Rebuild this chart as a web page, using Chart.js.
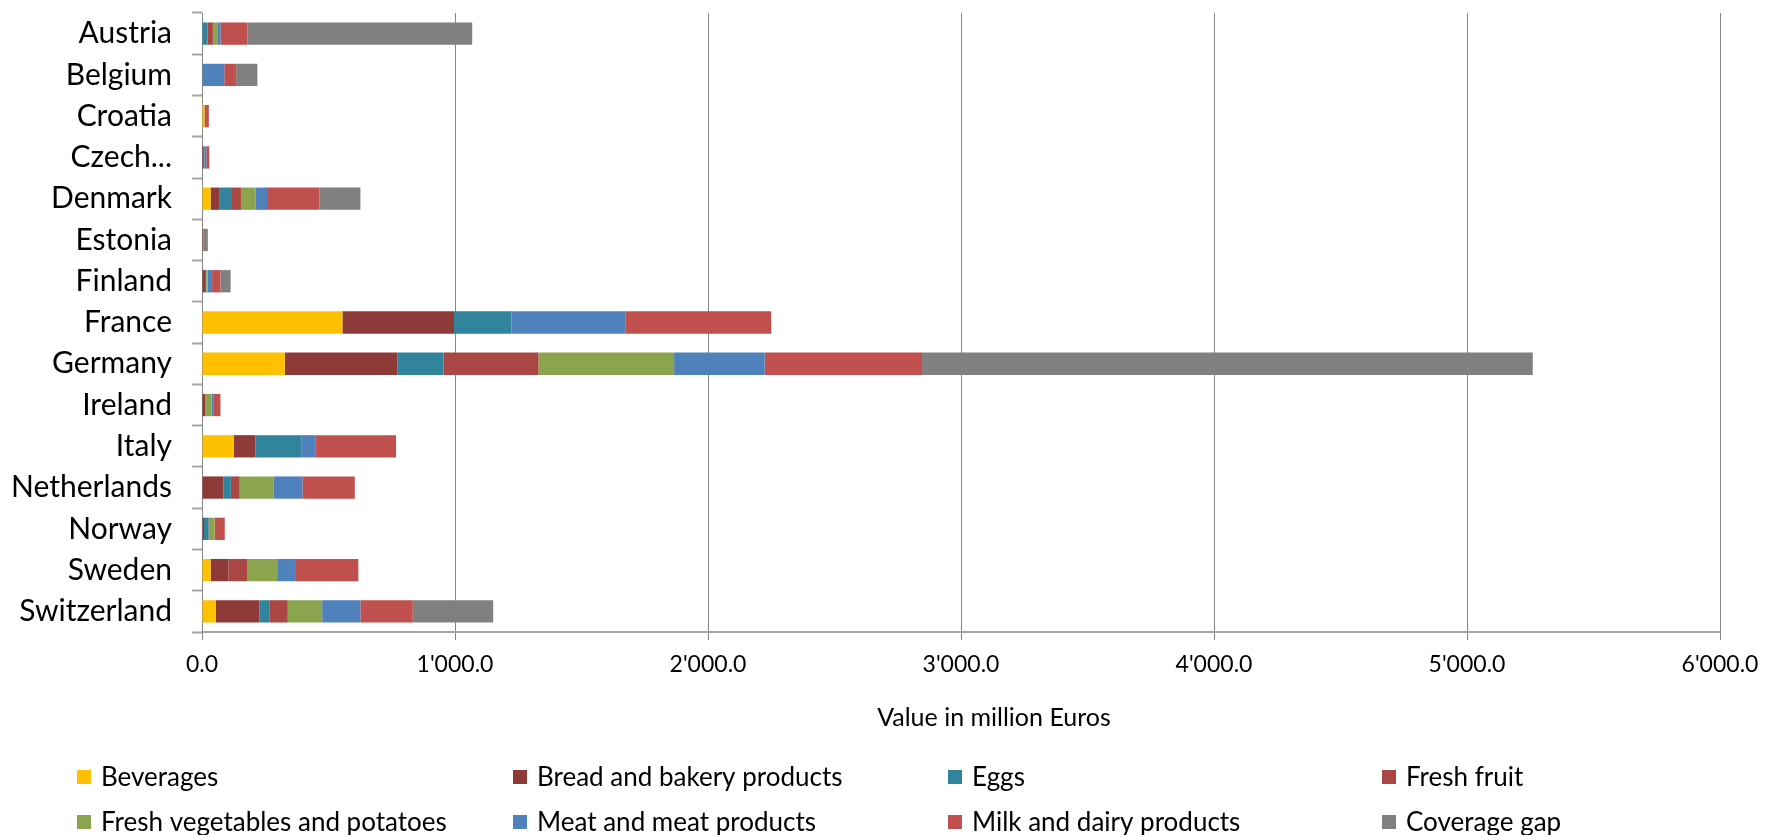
<!DOCTYPE html>
<html>
<head>
<meta charset="utf-8">
<script src="https://cdn.jsdelivr.net/npm/chart.js@4.4.1/dist/chart.umd.min.js"></script>
<style>
  html, body { margin: 0; padding: 0; background: #fff; }
  #wrap { width: 1769px; height: 835px; }
</style>
</head>
<body>
<div id="wrap"><canvas id="chart" width="1769" height="835"></canvas></div>
<script>
// カテゴリ（国）
const countries = ["Austria", "Belgium", "Croatia", "Czech...", "Denmark", "Estonia", "Finland",
    "France", "Germany", "Ireland", "Italy", "Netherlands", "Norway", "Sweden", "Switzerland"];

// 各系列の値（million Euros）
const beverages   = [0, 0, 10, 0, 34, 0, 0, 555, 327, 0, 125, 0, 0, 34, 54];
const bread       = [0, 0, 5, 4, 36, 0, 12, 441, 445, 12, 86, 85, 8, 71, 173];
const eggs        = [22, 0, 0, 5, 45, 0, 5, 227, 183, 0, 181, 29, 18, 0, 41];
const freshFruit  = [21, 0, 0, 0, 39, 5, 0, 0, 375, 0, 0, 35, 4, 75, 71];
const freshVeg    = [20, 0, 0, 0, 57, 0, 5, 0, 536, 26, 0, 133, 20, 117, 136];
const meat        = [10, 88, 0, 8, 46, 0, 18, 450, 358, 6, 58, 115, 0, 71, 151];
const milk        = [107, 47, 12, 12, 207, 0, 33, 577, 622, 29, 317, 207, 40, 250, 207];
const coverageGap = [888, 84, 0, 0, 162, 18, 40, 0, 2414, 0, 0, 0, 0, 0, 318];

const seriesNames = ["Beverages", "Bread and bakery products", "Eggs", "Fresh fruit",
    "Fresh vegetables and potatoes", "Meat and meat products", "Milk and dairy products", "Coverage gap"];
const seriesValues = [beverages, bread, eggs, freshFruit, freshVeg, meat, milk, coverageGap];
const seriesColors = ["#FFC000", "#8E3A38", "#31849B", "#AA4643", "#8BA54E", "#4F81BD", "#C0504D", "#808080"];

// x軸の目盛りとタイトル
const xTicks = [0, 1000, 2000, 3000, 4000, 5000, 6000];
const xTitle = "Value in million Euros";

const FONT = "Lato, 'Liberation Sans', Arial, sans-serif";

/**
 * 1000 -> "1'000.0"
 */
function formatTick(v) {
    const whole = Math.round(v);
    const s = String(whole).replace(/\B(?=(\d{3})+(?!\d))/g, "'");
    return s + ".0";
}

// x軸タイトルと凡例（4列グリッド、Excel 風）を描画
const gridLegend = {
    id: "gridLegend",
    afterDraw(chart) {
        const ctx = chart.ctx;
        const cols = [77, 513, 948, 1382];
        const rows = [777, 822];
        ctx.save();
        ctx.textBaseline = "middle";

        // 軸タイトル（Excel ではプロット中央より少し右）
        ctx.font = "25px " + FONT;
        ctx.textAlign = "center";
        ctx.fillStyle = "#000";
        ctx.fillText(xTitle, 994, 718);

        ctx.font = "26px " + FONT;
        ctx.textAlign = "left";
        chart.data.datasets.forEach((ds, i) => {
            const x = cols[i % 4];
            const y = rows[Math.floor(i / 4)];
            ctx.fillStyle = ds.backgroundColor;
            ctx.fillRect(x, y - 7, 14, 14);
            ctx.fillStyle = "#000";
            ctx.fillText(ds.label, x + 24, y + 1);
        });
        ctx.restore();
    }
};

const datasets = seriesNames.map((name, i) => ({
    label: name,
    data: seriesValues[i],
    backgroundColor: seriesColors[i],
    borderWidth: 0,
    barPercentage: 1,
    categoryPercentage: 0.54,
}));

const ctx = document.getElementById("chart").getContext("2d");
new Chart(ctx, {
    type: "bar",
    data: { labels: countries, datasets: datasets },
    options: {
        indexAxis: "y",
        responsive: false,
        animation: false,
        devicePixelRatio: 1,
        layout: { padding: { top: 13, right: 49, left: 0, bottom: 0 } },
        scales: {
            x: {
                stacked: true,
                min: 0,
                max: 6000,
                afterBuildTicks: (scale) => {
                    scale.ticks = xTicks.map(v => ({ value: v }));
                },
                afterFit: (scale) => {
                    scale.height = 203;
                    scale.paddingLeft = 0;
                    scale.paddingRight = 0;
                },
                ticks: {
                    callback: (v) => formatTick(v),
                    font: { family: FONT, size: 23 },
                    color: "#000",
                    padding: 11,
                    maxRotation: 0,
                },
                grid: { color: "#868686", lineWidth: 1, tickLength: 8 },
                border: { display: true, color: "#a6a6a6", width: 2 },
            },
            y: {
                stacked: true,
                afterFit: (scale) => {
                    scale.width = 202;
                    // ラベル分の上下余白は不要
                    scale.paddingTop = 0;
                    scale.paddingBottom = 0;
                },
                ticks: {
                    font: { family: FONT, size: 30 },
                    color: "#000",
                    padding: 20,
                },
                grid: {
                    drawOnChartArea: false,
                    offset: true,
                    tickLength: 10,
                    tickColor: "#a6a6a6",
                    tickWidth: 2,
                },
                border: { display: true, color: "#868686", width: 1 },
            },
        },
        plugins: {
            legend: { display: false },
            tooltip: { enabled: false },
        },
    },
    plugins: [gridLegend],
});
</script>
</body>
</html>
